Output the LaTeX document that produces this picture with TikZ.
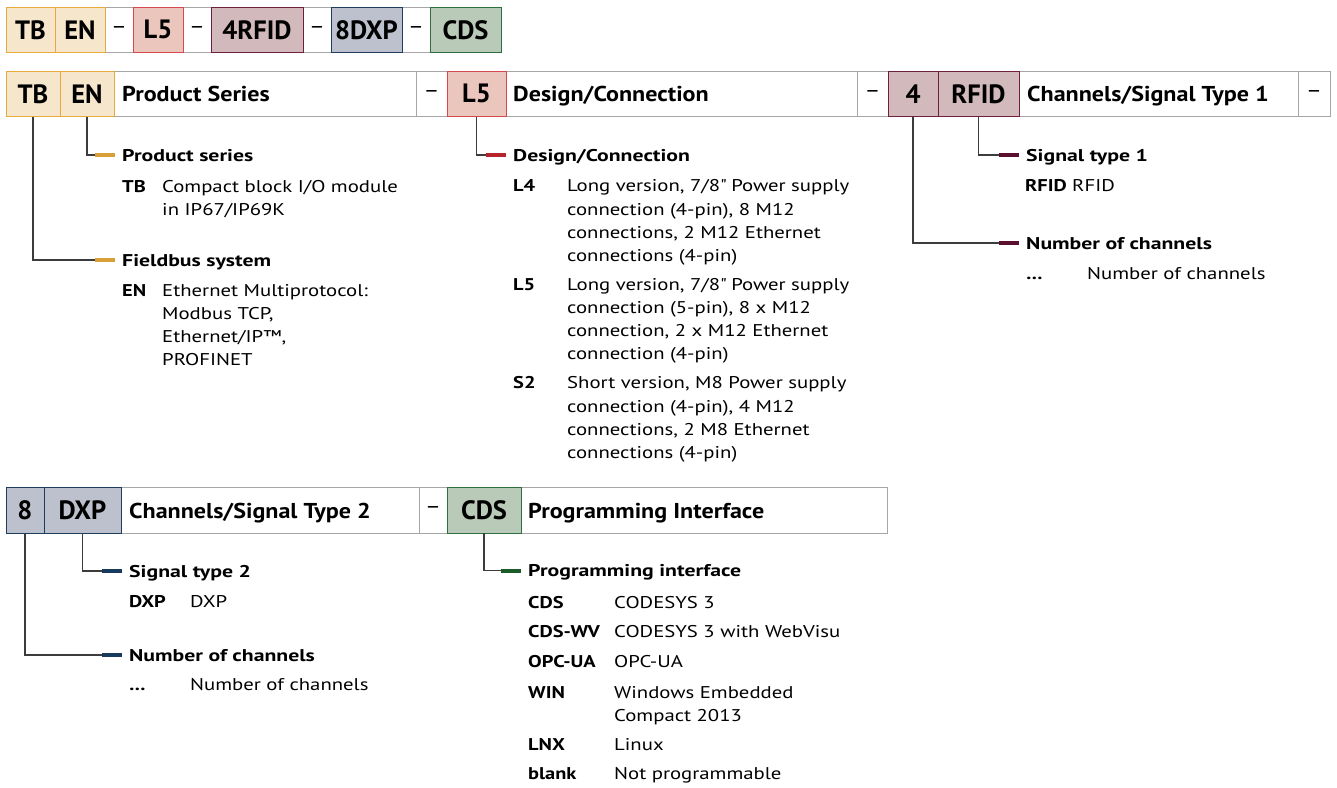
\documentclass[tikz,border=0pt]{standalone}
\usepackage{fontspec}
\setmainfont{PT Sans}
\newfontfamily\bodyfam{PT Sans}[FakeStretch=1.22]
\newfontfamily\headfam{PT Sans}[FakeStretch=1.28]
\newfontfamily\keyfam{PT Sans}[FakeStretch=1.2]
\newfontfamily\titlefam{PT Sans}[FakeStretch=1.12]
\usepackage{tikz}
\usetikzlibrary{positioning}
\definecolor{frame}{RGB}{166, 166, 166}
\definecolor{wire}{RGB}{60, 60, 60}
\definecolor{sand}{RGB}{246, 230, 204}
\definecolor{sandline}{RGB}{232, 170, 60}
\definecolor{sandbar}{RGB}{217, 160, 58}
\definecolor{rose}{RGB}{235, 198, 188}
\definecolor{roseline}{RGB}{216, 71, 75}
\definecolor{rosebar}{RGB}{181, 37, 43}
\definecolor{wine}{RGB}{209, 185, 188}
\definecolor{wineline}{RGB}{110, 31, 61}
\definecolor{winebar}{RGB}{91, 15, 46}
\definecolor{slate}{RGB}{189, 192, 205}
\definecolor{slateline}{RGB}{29, 61, 94}
\definecolor{slatebar}{RGB}{24, 58, 92}
\definecolor{sage}{RGB}{186, 202, 184}
\definecolor{sageline}{RGB}{47, 110, 62}
\definecolor{sagebar}{RGB}{29, 90, 42}
\newcommand{\bodyfont}{\bodyfam\fontsize{17}{23.3}\selectfont}
\newcommand{\headfont}{\headfam\bfseries\fontsize{17}{23.3}\selectfont}
\newcommand{\keyfont}{\keyfam\bfseries\fontsize{17}{23.3}\selectfont}
\newcommand{\titlefont}{\titlefam\fontsize{21.5}{24}\selectfont}
\newcommand{\codefont}{\fontsize{26.5}{30}\selectfont\bfseries}

\tikzset{
  cell/.style={draw=frame, line width=1, inner sep=0, outer sep=0, anchor=north west,
    minimum height=45.5, fill=white},
  dashcell/.style={cell, font=\titlefont},
  codebox/.style 2 args={cell, fill=#1, draw=#2, font=\codefont},
  title/.style={font=\titlefont\bfseries, inner sep=0, text height=15.5pt, text depth=0pt},
  head/.style={font=\headfont, inner sep=0, anchor=west, text height=12pt, text depth=0pt},
  entry/.style={font=\bodyfont, inner sep=0, anchor=base west, align=left},
  key/.style={entry, font=\keyfont},
  wire/.style={draw=wire, line width=1.2},
  stub/.style={draw=#1, line width=4}
}

\begin{document}
\begin{tikzpicture}[x=1pt, y=-1pt]
  \useasboundingbox (0, 0) rectangle (1337, 787);

  % type code
  \node[dashcell, minimum width=28] (t-d1) at (105, 7) {\textendash};
  \node[dashcell, minimum width=28] (t-d2) at (183, 7) {\textendash};
  \node[dashcell, minimum width=28] (t-d3) at (303, 7) {\textendash};
  \node[dashcell, minimum width=28] (t-d4) at (402, 7) {\textendash};
  \node[codebox={sand}{sandline}, minimum width=49] (t-tb) at (6, 7) {TB};
  \node[codebox={sand}{sandline}, minimum width=50] (t-en) at (55, 7) {EN};
  \node[codebox={rose}{roseline}, minimum width=50] (t-l5) at (133, 7) {L5};
  \node[codebox={wine}{wineline}, minimum width=92] (t-rfid) at (211, 7) {4RFID};
  \node[codebox={slate}{slateline}, minimum width=71] (t-dxp) at (331, 7) {8DXP};
  \node[codebox={sage}{sageline}, minimum width=71] (t-cds) at (430, 7) {CDS};

  % first row
  \node[cell, minimum width=302] (c-ps) at (114, 71) {};
  \node[title, right=8pt of c-ps.west] (l-ps) {Product Series};
  \node[dashcell, minimum width=31] (r2-d1) at (416, 71) {\textendash};
  \node[cell, minimum width=351] (c-dc) at (506, 71) {};
  \node[title, right=7pt of c-dc.west] (l-dc) {Design/Connection};
  \node[dashcell, minimum width=31] (r2-d2) at (857, 71) {\textendash};
  \node[cell, minimum width=279] (c-st1) at (1019, 71) {};
  \node[title, right=8pt of c-st1.west] (l-st1) {Channels/Signal Type 1};
  \node[dashcell, minimum width=32] (r2-d3) at (1298, 71) {\textendash};
  \node[codebox={sand}{sandline}, minimum width=54] (r2-tb) at (6, 71) {TB};
  \node[codebox={sand}{sandline}, minimum width=54] (r2-en) at (60, 71) {EN};
  \node[codebox={rose}{roseline}, minimum width=59] (r2-l5) at (447, 71) {L5};
  \node[codebox={wine}{wineline}, minimum width=50] (r2-4) at (888, 71) {4};
  \node[codebox={wine}{wineline}, minimum width=81] (r2-rfid) at (938, 71) {RFID};

  % product series / fieldbus
  \node[head] (h-ps) at (122, 155) {Product series};
  \node[key] (k-tb) at (122, 192) {TB};
  \node[entry] (d-tb) at (162, 215.3) {Compact block I/O module\\in IP67/IP69K};
  \node[head] (h-fb) at (122, 260) {Fieldbus system};
  \node[key] (k-en) at (122, 296) {EN};
  \node[entry] (d-en) at (162, 365.9) {Ethernet Multiprotocol:\\Modbus TCP,\\Ethernet/IP™,\\PROFINET};
  \draw[wire] (r2-en.south) |- ([xshift=-7pt]h-ps.west);
  \draw[wire] (r2-tb.south) |- ([xshift=-7pt]h-fb.west);
  \draw[stub=sandbar] ([xshift=-27pt]h-ps.west) -- ([xshift=-7pt]h-ps.west);
  \draw[stub=sandbar] ([xshift=-27pt]h-fb.west) -- ([xshift=-7pt]h-fb.west);

  % design / connection
  \node[head] (h-dc) at (513, 155) {Design/Connection};
  \node[key] (k-l4) at (513, 191.7) {L4};
  \node[entry] (d-l4) at (567, 261.6) {Long version, 7/8\textquotedbl{} Power supply\\connection (4-pin), 8 M12\\connections, 2 M12 Ethernet\\connections (4-pin)};
  \node[key] (k-l5) at (513, 290) {L5};
  \node[entry] (d-l5) at (567, 359.9) {Long version, 7/8\textquotedbl{} Power supply\\connection (5-pin), 8 x M12\\connection, 2 x M12 Ethernet\\connection (4-pin)};
  \node[key] (k-s2) at (513, 388.7) {S2};
  \node[entry] (d-s2) at (567, 458.6) {Short version, M8 Power supply\\connection (4-pin), 4 M12\\connections, 2 M8 Ethernet\\connections (4-pin)};
  \draw[wire] (r2-l5.south) |- ([xshift=-7pt]h-dc.west);
  \draw[stub=rosebar] ([xshift=-27pt]h-dc.west) -- ([xshift=-7pt]h-dc.west);

  % channels / signal type 1
  \node[head] (h-st1) at (1026, 155) {Signal type 1};
  \node[key] (k-rfid) at (1025, 191) {RFID};
  \node[entry] (d-rfid) at (1072, 191) {RFID};
  \node[head] (h-ch1) at (1026, 243) {Number of channels};
  \node[key] (k-ch1) at (1026, 279) {\dots};
  \node[entry] (d-ch1) at (1087, 279) {Number of channels};
  \draw[wire] (r2-rfid.south) |- ([xshift=-7pt]h-st1.west);
  \draw[wire] (r2-4.south) |- ([xshift=-7pt]h-ch1.west);
  \draw[stub=winebar] ([xshift=-27pt]h-st1.west) -- ([xshift=-7pt]h-st1.west);
  \draw[stub=winebar] ([xshift=-27pt]h-ch1.west) -- ([xshift=-7pt]h-ch1.west);

  % second row
  \node[cell, minimum width=298] (c-st2) at (121, 487.5) {};
  \node[title, right=8pt of c-st2.west] (l-st2) {Channels/Signal Type 2};
  \node[dashcell, minimum width=28] (r3-d1) at (419, 487.5) {\textendash};
  \node[cell, minimum width=366] (c-pi) at (521, 487.5) {};
  \node[title, right=7pt of c-pi.west] (l-pi) {Programming Interface};
  \node[codebox={slate}{slateline}, minimum width=38] (r3-8) at (6, 487.5) {8};
  \node[codebox={slate}{slateline}, minimum width=77] (r3-dxp) at (44, 487.5) {DXP};
  \node[codebox={sage}{sageline}, minimum width=74] (r3-cds) at (447, 487.5) {CDS};

  % channels / signal type 2
  \node[head] (h-st2) at (129, 571) {Signal type 2};
  \node[key] (k-dxp) at (129, 607.5) {DXP};
  \node[entry] (d-dxp) at (190, 607.5) {DXP};
  \node[head] (h-ch2) at (129, 655) {Number of channels};
  \node[key] (k-ch2) at (129, 690) {\dots};
  \node[entry] (d-ch2) at (190, 690) {Number of channels};
  \draw[wire] (r3-dxp.south) |- ([xshift=-7pt]h-st2.west);
  \draw[wire] (r3-8.south) |- ([xshift=-7pt]h-ch2.west);
  \draw[stub=slatebar] ([xshift=-27pt]h-st2.west) -- ([xshift=-7pt]h-st2.west);
  \draw[stub=slatebar] ([xshift=-27pt]h-ch2.west) -- ([xshift=-7pt]h-ch2.west);

  % programming interface
  \node[head] (h-pi) at (528, 570.5) {Programming interface};
  \node[key] (k-cds) at (528, 608) {CDS};
  \node[entry] (d-cds) at (614, 608) {CODESYS 3};
  \node[key] (k-wv) at (528, 637.7) {CDS-WV};
  \node[entry] (d-wv) at (614, 637.7) {CODESYS 3 with WebVisu};
  \node[key] (k-opc) at (528, 667.7) {OPC-UA};
  \node[entry] (d-opc) at (614, 667.7) {OPC-UA};
  \node[key] (k-win) at (528, 698) {WIN};
  \node[entry] (d-win) at (614, 721.3) {Windows Embedded\\Compact 2013};
  \node[key] (k-lnx) at (528, 750) {LNX};
  \node[entry] (d-lnx) at (614, 750) {Linux};
  \node[key] (k-blank) at (528, 779.3) {blank};
  \node[entry] (d-blank) at (614, 779.3) {Not programmable};
  \draw[wire] (r3-cds.south) |- ([xshift=-7pt]h-pi.west);
  \draw[stub=sagebar] ([xshift=-27pt]h-pi.west) -- ([xshift=-7pt]h-pi.west);

\end{tikzpicture}
\end{document}
